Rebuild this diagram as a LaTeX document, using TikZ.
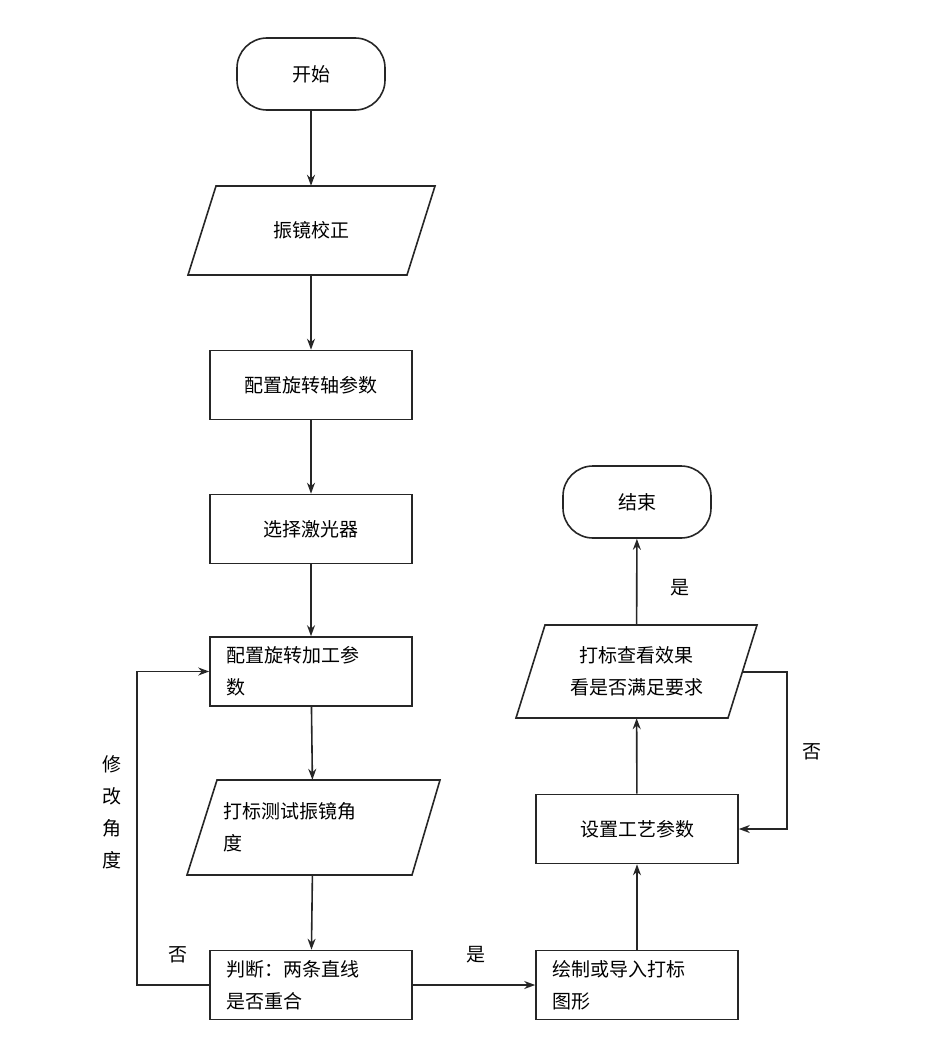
\documentclass[tikz,border=0pt]{standalone}
\usepackage{fontspec}
\setmainfont{Noto Sans CJK SC}
\usetikzlibrary{arrows.meta}
\begin{document}
\begin{tikzpicture}[x=1pt,y=-1pt,
  every node/.style={font=\fontsize{19}{32}\selectfont},
  line/.style={draw=black!85,line width=1.6pt},
  arr/.style={line,-{Stealth[length=11pt,width=8pt]}},
  box/.style={line,rectangle,minimum width=202pt,minimum height=69pt,inner sep=0pt},
  boxl/.style={box,text width=170pt,align=left},
  term/.style={line,rounded corners=30pt,minimum width=148pt,minimum height=72pt,inner sep=0pt},
  lab/.style={inner sep=1pt}]
\useasboundingbox (0,0) rectangle (924,1057);
\node[term] (start) at (311,74) {开始};
\draw[line] (188,275)--(216,186)--(435,186)--(407,275)--cycle;
\node[minimum width=190pt,minimum height=89pt,inner sep=0pt] (cal) at (311,230.5) {振镜校正};
\node[box] (axis) at (311,385) {配置旋转轴参数};
\node[box] (laser) at (311,529) {选择激光器};
\node[boxl] (proc) at (311,671.5) {配置旋转加工参\\数};
\draw[line] (187,875)--(217,780)--(440,780)--(412,875)--cycle;
\node[minimum width=200pt,minimum height=95pt,inner sep=0pt,text width=180pt,align=left] (test) at (313,827.5) {打标测试振镜角\\度};
\node[boxl] (judge) at (311,985) {判断：两条直线\\是否重合};
\node[boxl] (draw) at (637,985) {绘制或导入打标\\图形};
\node[box] (set) at (637,829) {设置工艺参数};
\draw[line] (516,718)--(545,625)--(757,625)--(728,718)--cycle;
\node[minimum width=183pt,minimum height=93pt,inner sep=0pt,text width=170pt,align=center] (look) at (636.5,671.5) {打标查看效果\\看是否满足要求};
\coordinate (lookR) at (743,672);
\node[term] (end) at (637,502) {结束};
\draw[arr] (start)--(cal);
\draw[arr] (cal)--(axis);
\draw[arr] (axis)--(laser);
\draw[arr] (laser)--(proc);
\draw[arr] (proc)--(test);
\draw[arr] (test)--(judge);
\draw[arr] (judge.west)--++(-72,0)|-(proc.west);
\draw[arr] (judge)--(draw);
\draw[arr] (draw)--(set);
\draw[arr] (set)--(look);
\draw[arr] (look)--(end);
\draw[arr] (lookR)-|(787,829)--(set.east);
\node[lab] at (178,955) {否};
\node[lab,text width=20pt,align=center] at (112,812) {修\\改\\角\\度};
\node[lab] at (476,955) {是};
\node[lab] at (680,588) {是};
\node[lab] at (812,752) {否};
\end{tikzpicture}
\end{document}
